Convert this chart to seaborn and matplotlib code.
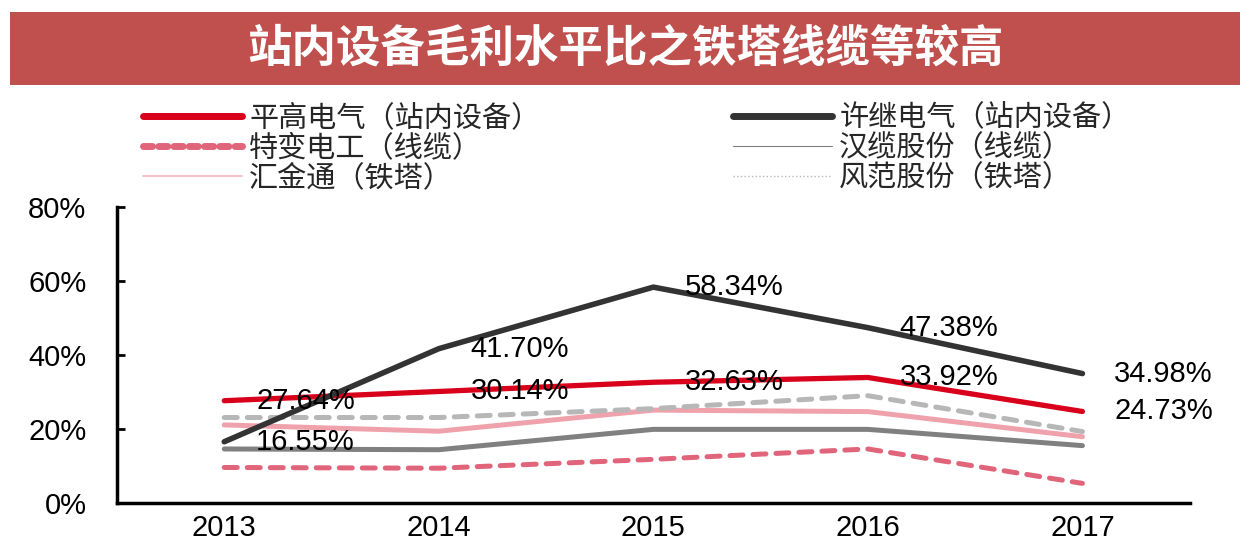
import pandas as pd
import matplotlib
matplotlib.use('Agg')
import matplotlib.pyplot as plt
import seaborn as sns
from matplotlib.lines import Line2D
from matplotlib.patches import Rectangle

sns.set_style('ticks')
plt.rcParams['font.family'] = ['Liberation Sans', 'Noto Sans CJK SC', 'DejaVu Sans']

# 数据（毛利率 %）
anos = ['2013', '2014', '2015', '2016', '2017']
pinggao = [27.64, 30.14, 32.63, 33.92, 24.73]
xuji = [16.55, 41.70, 58.34, 47.38, 34.98]
tebian = [9.6, 9.4, 11.8, 14.6, 5.3]
hanlan = [14.6, 14.4, 19.9, 19.9, 15.5]
huijintong = [21.1, 19.4, 25.1, 24.7, 17.9]
fengfan = [23.1, 23.1, 25.5, 29.0, 19.3]

nomes = ['平高电气（站内设备）', '许继电气（站内设备）', '特变电工（线缆）',
         '汉缆股份（线缆）', '汇金通（铁塔）', '风范股份（铁塔）']
titulo = '站内设备毛利水平比之铁塔线缆等较高'

fig = plt.figure(figsize=(12.51, 5.6), dpi=100)
ax = fig.add_axes([0.0935, 0.1018, 0.8575, 0.5286])

cjk = ['Noto Sans CJK SC', 'DejaVu Sans']

# faixa do título
fig.patches.append(Rectangle((0.008, 0.848), 0.983, 0.130, transform=fig.transFigure,
                             facecolor='#C0504D', edgecolor='none'))
fig.text(0.5, 0.913, titulo, ha='center', va='center', color='white',
         fontsize=32, fontweight='bold', family=cjk)

def linha(valores, cor, lw, ls='-'):
    df = pd.DataFrame({'ano': anos, 'valor': valores})
    sns.lineplot(data=df, x='ano', y='valor', ax=ax, color=cor, linewidth=lw,
                 linestyle=ls, dash_capstyle='round', sort=False)

linha(tebian, '#E0657A', 3.6, (0, (2.6, 2.0)))
linha(hanlan, '#808080', 3.6)
linha(huijintong, '#F0A2AC', 3.6)
linha(fengfan, '#B7B7B7', 3.6, (0, (2.6, 2.0)))
linha(pinggao, '#D9001B', 3.8)
linha(xuji, '#333333', 4.0)

# rótulos de dados
for serie in (pinggao, xuji):
    for i, v in enumerate(serie):
        ax.annotate(f'{v:.2f}%', (i, v), xytext=(23, 0), textcoords='offset points',
                    ha='left', va='center', fontsize=21, color='black')

ax.set_xlim(-0.5, 4.5)
ax.set_ylim(0, 80)
ax.set_yticks([0, 20, 40, 60, 80])
ax.set_yticklabels([f'{t}%' for t in [0, 20, 40, 60, 80]])
ax.set_xlabel('')
ax.set_ylabel('')
ax.tick_params(axis='both', labelsize=21, colors='black')
ax.tick_params(axis='x', length=0, pad=8)
ax.tick_params(axis='y', length=6, width=2, direction='in', pad=22)
for lado in ['top', 'right']:
    ax.spines[lado].set_visible(False)
for lado in ['left', 'bottom']:
    ax.spines[lado].set_linewidth(2.5)
    ax.spines[lado].set_color('black')

# legenda
handles = [
    Line2D([], [], color='#D9001B', lw=5, solid_capstyle='round'),
    Line2D([], [], color='#333333', lw=5, solid_capstyle='round'),
    Line2D([], [], color='#E0657A', lw=5, linestyle=(0, (1.3, 0.9)), dash_capstyle='round'),
    Line2D([], [], color='#808080', lw=0.8),
    Line2D([], [], color='#F5C4CB', lw=1.5),
    Line2D([], [], color='#B7B7B7', lw=1.0, linestyle=':'),
]
ordem = [0, 2, 4, 1, 3, 5]
leg = fig.legend([handles[i] for i in ordem], [nomes[i] for i in ordem],
                 loc='upper left', bbox_to_anchor=(0.114, 0.815), ncol=2,
                 frameon=False, prop={'family': cjk, 'size': 21},
                 handlelength=3.4, handletextpad=0.25, columnspacing=6.6,
                 labelspacing=0.0, borderpad=0, borderaxespad=0)

fig.savefig('out.png', dpi=100)
